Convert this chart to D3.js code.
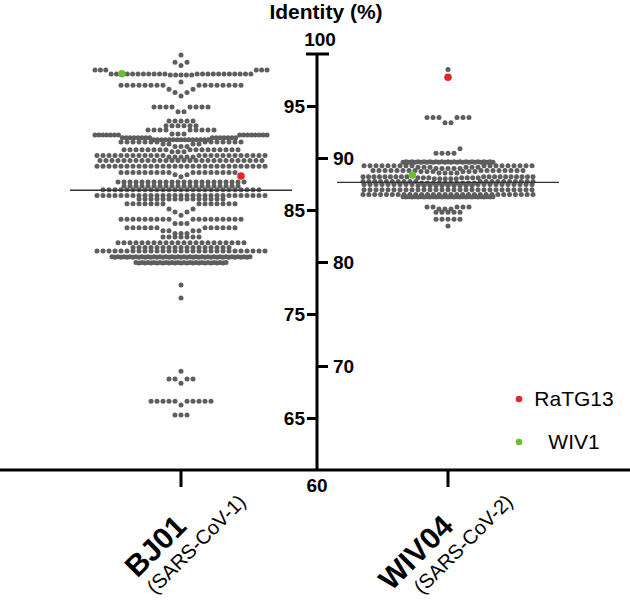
<!DOCTYPE html>
<html lang="en">
<head>
<meta charset="utf-8" />
<title>Identity swarm</title>
<script src="https://cdn.jsdelivr.net/npm/d3@7"></script>
<style>
  body { margin: 0; background: #fff; }
  svg { display: block; font-family: "Liberation Sans", Arial, sans-serif; }
  .tick text { font-weight: bold; font-size: 19px; fill: #000; }
</style>
</head>
<body>
<div id="chart"></div>
<script>
var width = 630, height = 605;

var categories = ["BJ01", "WIV04"];
var subLabels = ["(SARS-CoV-1)", "(SARS-CoV-2)"];
var medians = [86.9, 87.66];
var leftTicks = [65, 75, 85, 95];
var rightTicks = [70, 80, 90];

// rows of [identity, count, tag]; within a row the first entries sit in the middle
var bj01Rows = [
  [[99.9, 1]],
  [[98.9, 1], [99.2, 2]],
  [[97.98, 5], [98.07, 16], [98.1, 1, "WIV1"], [98.07, 5], [98.45, 6]],
  [[97.3, 1]],
  [[95.95, 1], [96.3, 2], [96.6, 2], [97.0, 16]],
  [[94.45, 2], [94.9, 8]],
  [[93.55, 5]],
  [[93.1, 6]],
  [[92.3, 3], [92.7, 9]],
  [[91.75, 15], [91.95, 15], [92.2, 15]],
  [[91.1, 3], [91.35, 4], [91.55, 14]],
  [[90.6, 3], [90.8, 17]],
  [[90.1, 5], [90.25, 24]],
  [[89.75, 28]],
  [[89.2, 29]],
  [[88.2, 1], [88.4, 2], [88.6, 17], [88.27, 1, "RaTG13"]],
  [[87.7, 22]],
  [[87.3, 20]],
  [[86.95, 27]],
  [[86.4, 29]],
  [[86.05, 15]],
  [[84.5, 1], [84.8, 2], [85.1, 2], [85.6, 14]],
  [[83.7, 3], [84.1, 18]],
  [[82.75, 3], [83.0, 4], [83.3, 12]],
  [[82.4, 7]],
  [[81.85, 22]],
  [[81.4, 17]],
  [[81.05, 29]],
  [[80.5, 24]],
  [[80.45, 23]],
  [[79.9, 15]],
  [[79.95, 16]],
  [[77.8, 1]],
  [[76.55, 1]],
  [[69.5, 1]],
  [[68.35, 1], [68.75, 4]],
  [[66.25, 1], [66.6, 10]],
  [[65.3, 3]]
];

var wiv04Rows = [
  [[98.5, 1]],
  [[97.76, 1, "RaTG13"]],
  [[93.4, 2], [93.9, 6]],
  [[90.45, 4], [90.9, 1]],
  [[89.6, 16]],
  [[89.65, 15]],
  [[89.0, 5], [89.1, 6], [89.25, 18]],
  [[88.55, 4], [88.7, 6], [88.8, 16]],
  [[88.0, 5], [88.1, 7], [88.37, 1, "WIV1"], [88.2, 19]],
  [[87.6, 10], [87.75, 20]],
  [[87.35, 10], [87.45, 19]],
  [[86.95, 29]],
  [[86.5, 30]],
  [[86.28, 16]],
  [[86.25, 15]],
  [[85.1, 3], [85.3, 5]],
  [[84.78, 5]],
  [[84.1, 5]],
  [[83.46, 1]]
];

var legendNames = ["RaTG13", "WIV1"];
var legendColors = ["#e5262b", "#6cbd2f"];

var svg = d3.select("#chart").append("svg")
    .attr("width", width)
    .attr("height", height);

var y = d3.scaleLinear().domain([60, 100]).range([470, 54]);
var x = d3.scalePoint().domain(categories).range([181, 448]);
var color = d3.scaleOrdinal().domain(legendNames).range(legendColors);
var axisX = 317;

function layout(rows, cx, maxW) {
  var out = [];
  rows.forEach(function(row) {
    var pts = [];
    row.forEach(function(e) {
      for (var i = 0; i < e[1]; i++) pts.push({ v: e[0], tag: e[2] });
    });
    var n = pts.length;
    var s = n > 1 ? Math.min(6, maxW / (n - 1)) : 0;
    pts.forEach(function(p, i) {
      var k;
      if (n % 2) k = i === 0 ? 0 : Math.ceil(i / 2) * (i % 2 ? -1 : 1);
      else k = (Math.floor(i / 2) + 0.5) * (i % 2 ? 1 : -1);
      p.x = cx + k * s;
      p.y = y(p.v);
      out.push(p);
    });
  });
  return out;
}

var points = layout(bj01Rows, x("BJ01"), 172).concat(layout(wiv04Rows, x("WIV04"), 170));

svg.append("g").selectAll("circle")
  .data(points.filter(function(d) { return !d.tag; }))
  .join("circle")
    .attr("cx", function(d) { return d.x; })
    .attr("cy", function(d) { return d.y; })
    .attr("r", 2.5)
    .attr("fill", "#5e5e5e");

// median lines
svg.append("g").selectAll("line")
  .data(categories)
  .join("line")
    .attr("x1", function(d) { return x(d) - 111; })
    .attr("x2", function(d) { return x(d) + 111; })
    .attr("y1", function(d, i) { return y(medians[i]); })
    .attr("y2", function(d, i) { return y(medians[i]); })
    .attr("stroke", "#333")
    .attr("stroke-width", 1.3);

svg.append("g").selectAll("circle")
  .data(points.filter(function(d) { return d.tag; }))
  .join("circle")
    .attr("cx", function(d) { return d.x; })
    .attr("cy", function(d) { return d.y; })
    .attr("r", 3.8)
    .attr("fill", function(d) { return color(d.tag); });

// y axis, ticks alternate sides
var gl = svg.append("g").attr("transform", "translate(" + axisX + ",0)")
    .call(d3.axisLeft(y).tickValues(leftTicks).tickSize(10).tickPadding(2).tickFormat(d3.format("d")));
var gr = svg.append("g").attr("transform", "translate(" + axisX + ",0)")
    .call(d3.axisRight(y).tickValues(rightTicks).tickSize(11).tickPadding(5).tickFormat(d3.format("d")));
[gl, gr].forEach(function(g) {
  g.select(".domain").remove();
  g.selectAll(".tick line").attr("stroke", "#000").attr("stroke-width", 3);
});

svg.append("line")
    .attr("x1", axisX).attr("x2", axisX)
    .attr("y1", y(100)).attr("y2", y(60))
    .attr("stroke", "#000").attr("stroke-width", 3);
svg.append("line")
    .attr("x1", axisX - 11).attr("x2", axisX + 12)
    .attr("y1", y(100)).attr("y2", y(100))
    .attr("stroke", "#000").attr("stroke-width", 3);
svg.append("text")
    .attr("x", axisX + 3).attr("y", y(100) - 8)
    .attr("text-anchor", "middle")
    .attr("font-weight", "bold").attr("font-size", 19)
    .text("100");
svg.append("text")
    .attr("x", axisX).attr("y", y(60) + 22)
    .attr("text-anchor", "middle")
    .attr("font-weight", "bold").attr("font-size", 19)
    .text("60");

svg.append("text")
    .attr("x", 326).attr("y", 19)
    .attr("text-anchor", "middle")
    .attr("font-weight", "bold").attr("font-size", 21)
    .text("Identity (%)");

// x axis
svg.append("line")
    .attr("x1", 0).attr("x2", width)
    .attr("y1", y(60)).attr("y2", y(60))
    .attr("stroke", "#000").attr("stroke-width", 3);

var cat = svg.append("g").selectAll("g")
  .data(categories)
  .join("g")
    .attr("transform", function(d) { return "translate(" + x(d) + ",0)"; });
cat.append("line")
    .attr("y1", y(60)).attr("y2", 487)
    .attr("stroke", "#000").attr("stroke-width", 3);
cat.append("text")
    .attr("transform", "translate(7,528) rotate(-45)")
    .attr("text-anchor", "end")
    .attr("font-weight", "bold").attr("font-size", 30)
    .text(function(d) { return d; });
cat.append("text")
    .attr("transform", "translate(66,503) rotate(-45)")
    .attr("text-anchor", "end")
    .attr("font-size", 20)
    .text(function(d, i) { return subLabels[i]; });

// legend
var leg = svg.append("g").selectAll("g")
  .data(legendNames)
  .join("g")
    .attr("transform", function(d, i) { return "translate(0," + (399 + i * 43) + ")"; });
leg.append("circle")
    .attr("cx", 519).attr("cy", 0).attr("r", 3.3)
    .attr("fill", function(d) { return color(d); });
leg.append("text")
    .attr("x", 574).attr("y", 7)
    .attr("text-anchor", "middle")
    .attr("font-size", 21)
    .text(function(d) { return d; });
</script>
</body>
</html>
